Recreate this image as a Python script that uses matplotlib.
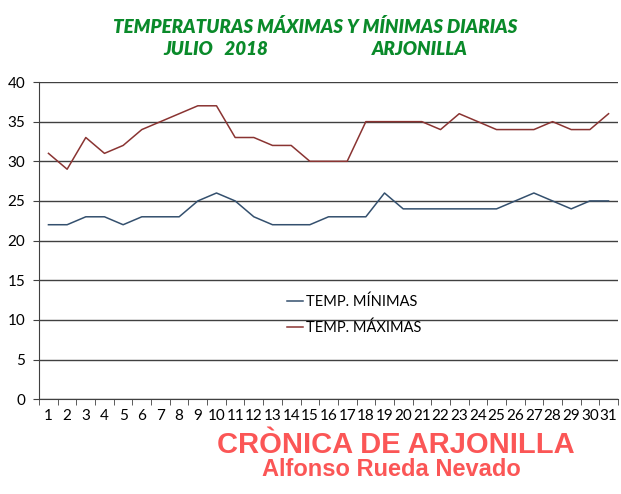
import numpy as np
import matplotlib
matplotlib.use("Agg")
import matplotlib.pyplot as plt

plt.rcParams['font.family'] = ['Lato', 'DejaVu Sans']

# datos julio 2018
dias = list(range(1, 32))
t_min = [22, 22, 23, 23, 22, 23, 23, 23, 25, 26, 25, 23, 22, 22, 22, 23,
         23, 23, 26, 24, 24, 24, 24, 24, 24, 25, 26, 25, 24, 25, 25]
t_max = [31, 29, 33, 31, 32, 34, 35, 36, 37, 37, 33, 33, 32, 32, 30, 30,
         30, 35, 35, 35, 35, 34, 36, 35, 34, 34, 34, 35, 34, 34, 36]
y_ticks = [0, 5, 10, 15, 20, 25, 30, 35, 40]

fig = plt.figure(figsize=(6.21, 4.94), dpi=100)
ax = fig.add_axes([0.063, 0.192, 0.932, 0.642])

x = np.arange(len(dias))
ax.plot(x, t_min, color='#34506e', lw=1.1, label='TEMP. MÍNIMAS')
ax.plot(x, t_max, color='#8a3432', lw=1.1, label='TEMP. MÁXIMAS')

ax.set_xlim(-0.5, len(dias) - 0.5)
ax.set_ylim(0, 40)
ax.set_yticks(y_ticks)
ax.tick_params(axis='y', labelsize=11, length=4, color='#404040', pad=6)
ax.yaxis.grid(True, color='#404040', lw=1.0)
ax.set_axisbelow(True)

# etiquetas en el centro, marcas entre categorias
ax.set_xticks(x)
ax.set_xticklabels([str(d) for d in dias], fontsize=11)
ax.set_xticks(np.arange(-0.5, len(dias)), minor=True)
ax.tick_params(axis='x', which='major', length=0, pad=7)
ax.tick_params(axis='x', which='minor', length=4, color='#404040')

for s in ['top', 'right']:
    ax.spines[s].set_visible(False)
ax.spines['left'].set_color('#404040')
ax.spines['bottom'].set_color('#404040')

ax.legend(loc='upper left', bbox_to_anchor=(0.405, 0.37), frameon=False,
          fontsize=10.5, handlelength=1.1, handletextpad=0.2, labelspacing=0.75)

tit = dict(ha='center', va='center', fontsize=13.5, fontweight='heavy',
           style='italic', color='#0a8a2a')
fig.text(0.507, 0.946, 'TEMPERATURAS MÁXIMAS Y MÍNIMAS DIARIAS', **tit)
fig.text(0.348, 0.899, 'JULIO   2018', **tit)
fig.text(0.676, 0.899, 'ARJONILLA', **tit)

fig.text(0.637, 0.099, 'CRÒNICA DE ARJONILLA', ha='center', va='center',
         fontsize=21, fontweight='bold', color='#fb5656', family='Liberation Sans')
fig.text(0.63, 0.05, 'Alfonso Rueda Nevado', ha='center', va='center',
         fontsize=17, fontweight='bold', color='#fb5656', family='Liberation Sans')

fig.savefig('out.png', dpi=100)
